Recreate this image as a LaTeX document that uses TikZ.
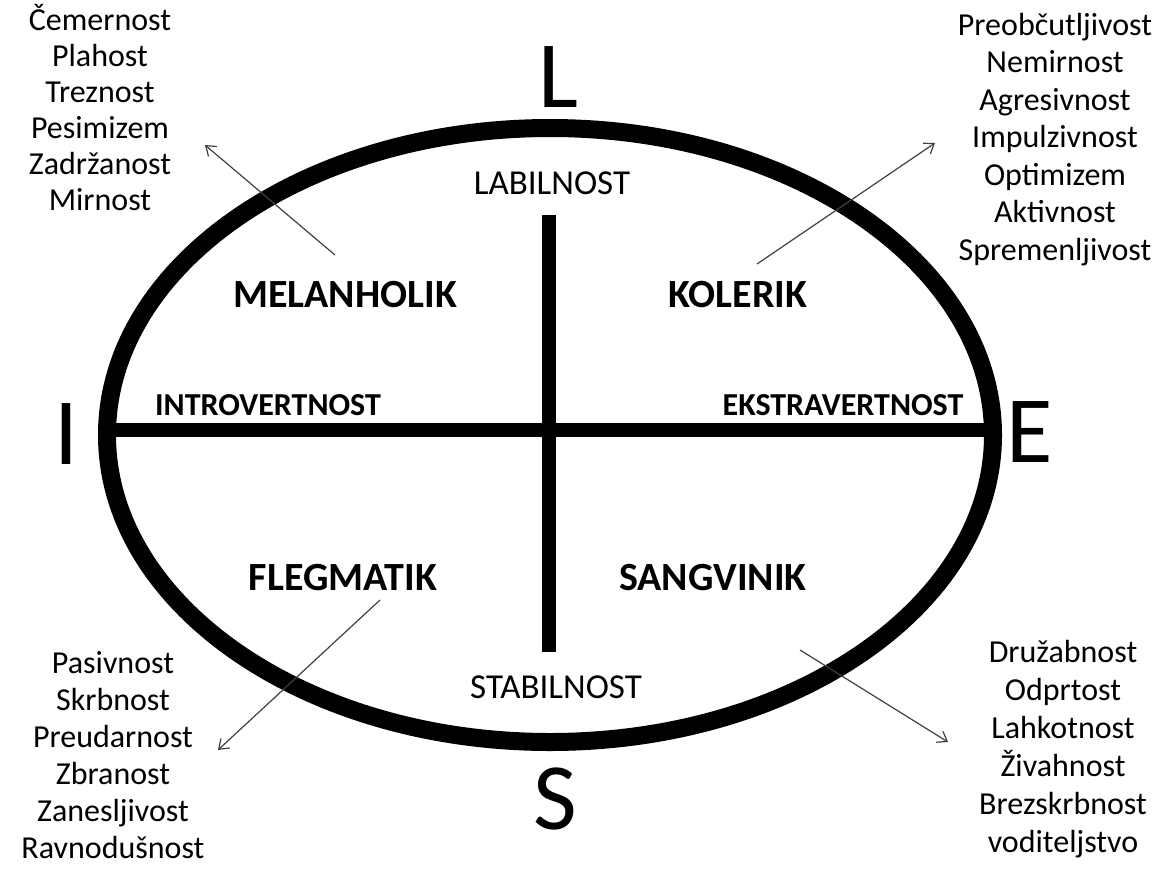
\documentclass[tikz,border=0pt]{standalone}
\usepackage{fontspec}
\setmainfont{Carlito}
\usetikzlibrary{arrows.meta}
\begin{document}
\begin{tikzpicture}[x=1pt,y=-1pt,
  big/.style={font=\fontsize{95}{95}\selectfont, inner sep=0pt},
  type/.style={font=\fontsize{40}{44}\selectfont\bfseries, inner sep=0pt},
  axis/.style={font=\fontsize{32}{36}\selectfont\bfseries, inner sep=0pt},
  pole/.style={font=\fontsize{35}{38}\selectfont, inner sep=0pt},
  trait/.style={align=center, inner sep=0pt, anchor=north},
  bar/.style={line width=14pt},
  ring/.style={line width=18pt},
  pointer/.style={line width=1.2pt, draw=black!75, -{Straight Barb[length=9pt,width=13pt,line width=1.2pt]}}]
\useasboundingbox (0,0) rectangle (1158,868);
% ellipse
\draw[ring] (550,435) ellipse [x radius=443, y radius=307];
% bars
\coordinate (vt) at (549,215);
\coordinate (vb) at (549,652);
\coordinate (hl) at (110,430);
\coordinate (hr) at (990,430);
\draw[bar] (vt) -- (vb);
\draw[bar] (hl) -- (hr);
% pole letters
\node[big] (L) at (558,77) {L};
\node[big] (I) at (66,434) {I};
\node[big] (E) at (1030,432) {E};
\node[big] (S) at (555,799) {S};
% pole labels
\node[pole] (lab) at (552,183) {LABILNOST};
\node[pole] (stab) at (556,687) {STABILNOST};
\node[axis] (intro) at (268,405) {INTROVERTNOST};
\node[axis] (ekstra) at (843,405) {EKSTRAVERTNOST};
% types
\node[type] (mel) at (345,295) {MELANHOLIK};
\node[type] (kol) at (738,295) {KOLERIK};
\node[type] (fleg) at (343,578) {FLEGMATIK};
\node[type] (sang) at (713,578) {SANGVINIK};
% trait lists
\node[trait, font=\fontsize{32}{36}\selectfont] (tl) at (100,4) {Čemernost\\Plahost\\Treznost\\Pesimizem\\Zadržanost\\Mirnost};
\node[trait, font=\fontsize{32}{37.5}\selectfont] (tr) at (1055,13) {Preobčutljivost\\Nemirnost\\Agresivnost\\Impulzivnost\\Optimizem\\Aktivnost\\Spremenljivost};
\node[trait, font=\fontsize{32}{37}\selectfont] (bl) at (113,651) {Pasivnost\\Skrbnost\\Preudarnost\\Zbranost\\Zanesljivost\\Ravnodušnost};
\node[trait, font=\fontsize{32}{38}\selectfont] (br) at (1063,640) {Družabnost\\Odprtost\\Lahkotnost\\Živahnost\\Brezskrbnost\\voditeljstvo};
% arrows
\coordinate (a1s) at (335,255); \coordinate (a1e) at (205,145);
\coordinate (a2s) at (757,264); \coordinate (a2e) at (935,143);
\coordinate (a3s) at (380,600); \coordinate (a3e) at (218,750);
\coordinate (a4s) at (800,650); \coordinate (a4e) at (948,742);
\draw[pointer] (a1s) -- (a1e);
\draw[pointer] (a2s) -- (a2e);
\draw[pointer] (a3s) -- (a3e);
\draw[pointer] (a4s) -- (a4e);
\end{tikzpicture}
\end{document}
